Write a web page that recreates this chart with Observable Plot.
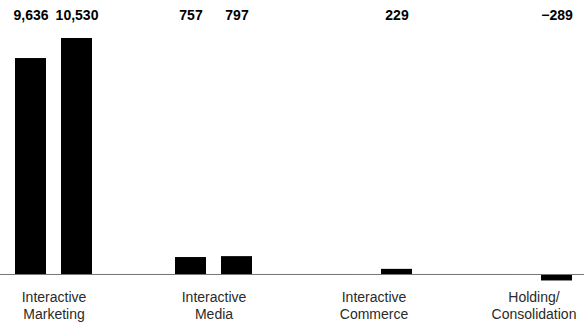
<!DOCTYPE html>
<html>
<head>
<meta charset="utf-8">
<script src="https://cdn.jsdelivr.net/npm/d3@7"></script>
<script src="https://cdn.jsdelivr.net/npm/@observablehq/plot@0.6"></script>
<style>
  html, body { margin: 0; padding: 0; background: #fff; }
  #chart svg { display: block; }
</style>
</head>
<body>
<div id="chart"></div>
<script>
// Operating result by business segment, previous year vs. current year
const segments = ["Interactive Marketing", "Interactive Media", "Interactive Commerce", "Holding/Consolidation"];
const segmentLabels = ["Interactive\nMarketing", "Interactive\nMedia", "Interactive\nCommerce", "Holding/\nConsolidation"];
const periods = ["Previous year", "Current year"];
const previousValues = [9636, 757, null, null];
const currentValues = [10530, 797, 229, -289];

// One row per bar; segments without a previous-year figure get a single bar
const rows = [];
segments.forEach((segment, i) => {
  if (previousValues[i] != null) rows.push({segment, period: periods[0], value: previousValues[i]});
  if (currentValues[i] != null) rows.push({segment, period: periods[1], value: currentValues[i]});
});

const labelOf = new Map(segments.map((s, i) => [s, segmentLabels[i]]));
const fmt = d3.format(",");

const chart = Plot.plot({
  width: 584,
  height: 324,
  marginLeft: 12,
  marginRight: 10,
  marginTop: 30,
  marginBottom: 41,
  style: {
    fontFamily: "'Liberation Sans', Arial, Helvetica, sans-serif",
    fontSize: "14px",
    background: "#fff",
    color: "#2a2a2a"
  },
  fx: {domain: segments, paddingInner: 0.508, paddingOuter: 0, axis: null},
  x: {domain: periods, paddingInner: 0.319, paddingOuter: 0, axis: null},
  y: {domain: [-402, 10887], axis: null},
  marks: [
    Plot.barY(rows, {fx: "segment", x: "period", y: "value", fill: "#000"}),
    Plot.ruleY([0], {stroke: "#777", insetLeft: -100, insetRight: -100}),
    // value labels sit in a row along the top edge, one above each bar
    Plot.text(rows, {
      fx: "segment",
      x: "period",
      text: d => fmt(d.value),
      frameAnchor: "top",
      lineAnchor: "middle",
      dy: -14.5,
      fontWeight: "bold",
      fontSize: 14,
      fill: "#000"
    }),
    Plot.axisFx({
      anchor: "bottom",
      label: null,
      tickSize: 0,
      tickPadding: 7,
      fontSize: 14,
      lineHeight: 1.2,
      tickFormat: d => labelOf.get(d)
    })
  ]
});

document.getElementById("chart").append(chart);
</script>
</body>
</html>
